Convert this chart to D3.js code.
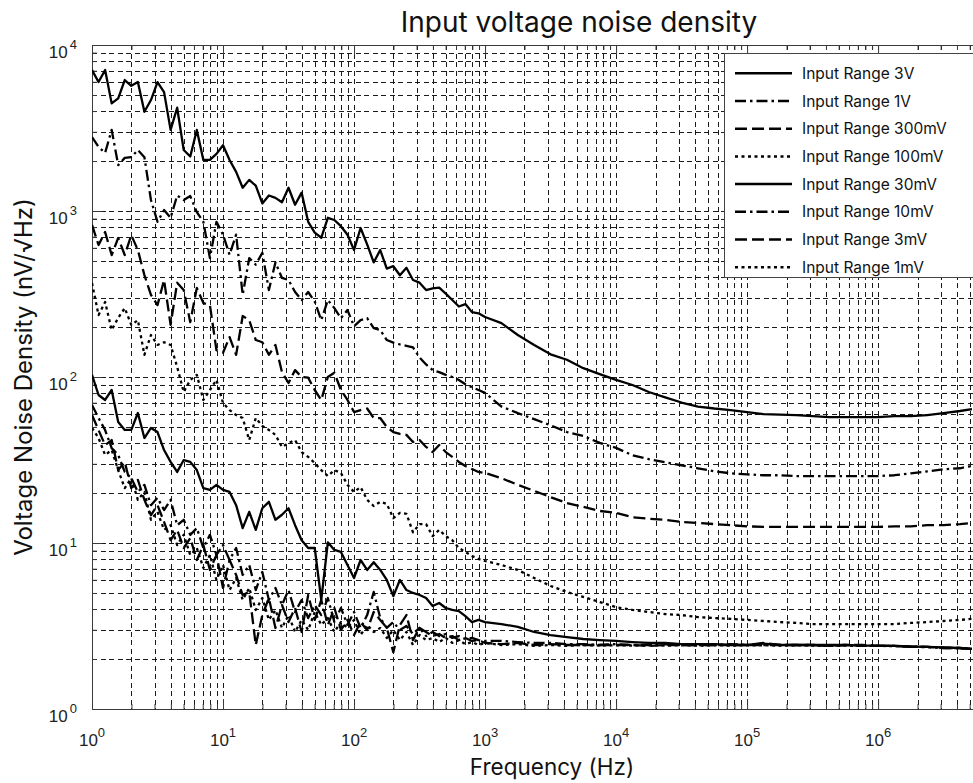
<!DOCTYPE html>
<html>
<head>
<meta charset="utf-8">
<script src="https://cdn.jsdelivr.net/npm/d3@7"></script>
<style>
  body { margin: 0; background: #fff; }
  svg { display: block; }
</style>
</head>
<body>
<svg id="chart" width="973" height="783"></svg>
<script>
// Frequency grid (Hz): dense over 1 Hz - 1 kHz, coarser above
const freqs = [
  1, 1.122, 1.259, 1.413, 1.585, 1.778, 1.995, 2.239, 2.512, 2.818,
  3.162, 3.548, 3.981, 4.467, 5.012, 5.623, 6.310, 7.079, 7.943, 8.913,
  10, 11.22, 12.59, 14.13, 15.85, 17.78, 19.95, 22.39, 25.12, 28.18,
  31.62, 35.48, 39.81, 44.67, 50.12, 56.23, 63.10, 70.79, 79.43, 89.13,
  100, 112.2, 125.9, 141.3, 158.5, 177.8, 199.5, 223.9, 251.2, 281.8,
  316.2, 354.8, 398.1, 446.7, 501.2, 562.3, 631.0, 707.9, 794.3, 891.3,
  1000,
  1334, 1778, 2371, 3162, 4217, 5623, 7499, 10000,
  13340, 17780, 23710, 31620, 42170, 56230, 74990, 100000,
  133400, 177800, 237100, 316200, 421700, 562300, 749900, 1000000,
  1334000, 1778000, 2371000, 3162000, 4217000, 5200000
];

// Noise density per input range (nV/sqrt(Hz))
const range3V = [
  7070, 5980, 7070, 4450, 4770, 6150, 5680, 5980, 3960, 4660,
  5980, 5200, 3080, 4190, 2330, 2130, 3080, 2030, 2030, 2210,
  2490, 2030, 1720, 1380, 1540, 1420, 1110, 1240, 1200, 1130,
  1380, 1090, 1290, 861, 740, 690, 910, 883, 810, 720,
  582, 790, 630, 490, 582, 450, 465, 410, 455, 384,
  370, 334, 342, 345, 318, 291, 266, 275, 246, 242,
  230,
  211, 179, 156, 137, 127, 113, 104, 96,
  89.5, 81.2, 75.3, 70.2, 66.4, 64.6, 63.2, 61.4,
  59.7, 59.3, 59.0, 58.1, 57.3, 57.3, 57.3, 57.3,
  58.1, 58.1, 59.0, 60.6, 62.4, 64.0
];
const range1V = [
  2790, 2430, 2240, 3080, 1890, 2090, 2110, 2330, 2110, 1165,
  861, 1014, 910, 1240, 1165, 1230, 985, 861, 520, 861,
  720, 545, 720, 313, 520, 475, 560, 334, 490, 395,
  384, 325, 291, 325, 285, 220, 291, 260, 226, 253,
  202, 220, 226, 197, 192, 167, 161, 157, 154, 151,
  131, 119, 110, 107, 103, 100, 96, 90.5, 86.9, 83.5,
  80.2,
  66.4, 60.6, 55.7, 51.2, 46.6, 44.1, 40.1, 37.4,
  33.8, 32.0, 30.6, 29.4, 28.2, 27.0, 26.3, 25.9,
  25.6, 25.6, 25.3, 25.3, 25.3, 25.3, 25.3, 25.3,
  25.6, 26.3, 27.0, 27.8, 28.2, 29.1
];
const range300mV = [
  824, 624, 747, 543, 688, 543, 716, 582, 411, 312,
  271, 384, 206, 370, 334, 214, 344, 279, 271, 145,
  140, 174, 136, 233, 220, 167, 162, 136, 156, 107,
  92, 110, 100, 99, 83.5, 72.7, 100, 106, 83.5, 72.7,
  61.5, 63.2, 64.6, 56.6, 56.6, 50.0, 46.6, 45.4, 44.8, 40.6,
  41.7, 37.9, 35.3, 38.9, 35.3, 33.0, 30.8, 29.1, 27.9, 26.8,
  26.4,
  24.6, 22.4, 20.6, 18.9, 17.4, 16.5, 15.6, 15.2,
  14.3, 14.0, 13.8, 13.4, 13.2, 13.0, 12.8, 12.6,
  12.5, 12.5, 12.5, 12.5, 12.5, 12.5, 12.5, 12.5,
  12.6, 12.6, 12.8, 12.8, 13.0, 13.2
];
const range100mV = [
  368, 236, 283, 192, 227, 260, 206, 220, 136, 179,
  156, 162, 156, 115, 81.2, 96, 103, 72.7, 83.5, 96,
  69.7, 63.2, 59.0, 56.6, 41.7, 56.6, 50.7, 48.0, 44.8, 37.9,
  40.0, 41.7, 35.3, 33.0, 30.3, 27.5, 25.3, 27.5, 26.4, 22.4,
  20.3, 21.7, 18.2, 16.7, 17.7, 17.2, 14.1, 15.2, 15.0, 11.6,
  13.0, 13.0, 11.0, 12.0, 11.0, 10.4, 9.33, 8.83, 8.35, 8.01,
  7.79,
  7.37, 6.88, 6.15, 5.51, 5.07, 4.73, 4.41, 4.11,
  3.95, 3.84, 3.73, 3.68, 3.58, 3.53, 3.49, 3.44,
  3.39, 3.34, 3.30, 3.25, 3.25, 3.25, 3.25, 3.25,
  3.25, 3.30, 3.34, 3.39, 3.44, 3.49
];
const range30mV = [
  103, 77.9, 72.7, 83.5, 53.5, 48.0, 48.0, 60.7, 42.9, 49.3,
  46.6, 36.3, 30.8, 26.8, 31.6, 30.8, 27.5, 21.4, 20.9, 22.4,
  20.9, 20.3, 16.9, 12.3, 15.4, 12.0, 16.2, 17.7, 13.8, 14.8,
  16.2, 12.8, 10.4, 9.33, 9.33, 4.54, 10.1, 9.08, 8.83, 7.37,
  6.15, 7.90, 6.88, 7.66, 6.88, 5.99, 4.79, 5.99, 5.21, 5.00,
  4.86, 4.66, 4.17, 4.35, 4.06, 3.95, 3.89, 3.63, 3.34, 3.44,
  3.34,
  3.25, 3.12, 2.91, 2.79, 2.71, 2.64, 2.60, 2.57,
  2.53, 2.50, 2.50, 2.46, 2.46, 2.46, 2.43, 2.43,
  2.48, 2.43, 2.43, 2.43, 2.43, 2.43, 2.41, 2.41,
  2.40, 2.38, 2.37, 2.35, 2.33, 2.30
];
const range10mV = [
  67.8, 56.6, 47.9, 37.3, 33.9, 26.8, 24.6, 20.3, 22.4, 16.9,
  18.7, 15.8, 18.2, 12.8, 13.8, 11.2, 12.3, 9.33, 11.2, 8.47,
  9.72, 7.90, 9.33, 6.42, 7.37, 5.21, 6.69, 4.54, 5.36, 4.23,
  5.21, 3.84, 4.54, 3.53, 4.23, 3.68, 4.66, 3.34, 4.06, 3.21,
  3.84, 3.08, 3.68, 5.07, 3.53, 3.08, 3.34, 2.99, 3.16, 2.83,
  3.08, 2.75, 2.91, 2.75, 2.83, 2.68, 2.75, 2.64, 2.68, 2.60,
  2.57,
  2.57, 2.53, 2.50, 2.50, 2.46, 2.46, 2.43, 2.46,
  2.43, 2.43, 2.46, 2.43, 2.43, 2.43, 2.46, 2.43,
  2.43, 2.43, 2.43, 2.43, 2.40, 2.43, 2.40, 2.40,
  2.40, 2.37, 2.37, 2.33, 2.33, 2.30
];
const range3mV = [
  59.0, 47.9, 38.9, 41.7, 27.5, 30.8, 21.4, 24.0, 18.2, 14.7,
  16.9, 13.4, 10.4, 12.0, 9.33, 10.7, 7.90, 9.72, 6.88, 8.47,
  5.36, 7.90, 6.42, 4.86, 5.07, 2.43, 3.68, 4.66, 3.08, 4.23,
  3.34, 4.06, 2.91, 4.86, 3.44, 4.54, 3.21, 4.06, 2.99, 3.44,
  2.79, 3.34, 2.99, 3.84, 3.44, 3.08, 2.20, 3.21, 3.68, 2.60,
  3.08, 2.91, 2.75, 2.83, 2.68, 2.75, 2.60, 2.68, 2.57, 2.60,
  2.50,
  2.46, 2.50, 2.43, 2.46, 2.43, 2.43, 2.43, 2.43,
  2.43, 2.40, 2.43, 2.43, 2.43, 2.43, 2.43, 2.43,
  2.50, 2.43, 2.43, 2.43, 2.40, 2.43, 2.43, 2.40,
  2.40, 2.37, 2.37, 2.33, 2.33, 2.30
];
const range1mV = [
  49.3, 42.9, 33.9, 36.3, 27.5, 21.4, 24.6, 18.2, 20.3, 13.8,
  15.4, 12.0, 12.8, 9.72, 11.2, 8.47, 9.33, 7.07, 8.47, 5.99,
  7.37, 5.21, 6.15, 4.54, 5.36, 3.95, 4.66, 3.44, 3.95, 3.08,
  3.68, 2.91, 3.44, 2.99, 3.84, 3.21, 3.53, 2.91, 3.34, 3.08,
  3.44, 2.79, 3.21, 2.91, 3.08, 2.68, 2.99, 2.60, 2.91, 2.43,
  2.79, 2.60, 2.68, 2.53, 2.68, 2.50, 2.60, 2.46, 2.53, 2.43,
  2.50,
  2.43, 2.46, 2.40, 2.43, 2.40, 2.43, 2.41, 2.42,
  2.41, 2.42, 2.41, 2.42, 2.41, 2.42, 2.41, 2.42,
  2.42, 2.41, 2.42, 2.41, 2.40, 2.41, 2.40, 2.40,
  2.39, 2.37, 2.36, 2.34, 2.32, 2.30
];

const seriesNames = [
  "Input Range 3V", "Input Range 1V", "Input Range 300mV", "Input Range 100mV",
  "Input Range 30mV", "Input Range 10mV", "Input Range 3mV", "Input Range 1mV"
];
const seriesValues = [range3V, range1V, range300mV, range100mV,
                      range30mV, range10mV, range3mV, range1mV];

// Line styles cycle: solid, dash-dot, dashed, dotted
const dashPatterns = [null, "11,4,2.5,4", "12,5", "3,3.5"];

const xDecades = [1, 10, 100, 1000, 10000, 100000, 1000000];
const yDecades = [1, 10, 100, 1000, 10000];

const svg = d3.select("#chart");
const W = 973, H = 783;
const plotL = 92, plotT = 45, plotB = 709, plotR = 973;

const x = d3.scaleLog().domain([1, 5.3e6]).range([plotL, plotR]);
const y = d3.scaleLog().domain([1, 1e4]).range([plotB, plotT]);

svg.append("rect").attr("width", W).attr("height", H).attr("fill", "#fff");

svg.append("defs").append("clipPath").attr("id", "plotClip")
  .append("rect").attr("x", plotL).attr("y", plotT)
  .attr("width", plotR - plotL).attr("height", plotB - plotT);

// Dashed grid on every major and minor tick
const grid = svg.append("g").attr("stroke", "#1a1a1a").attr("stroke-width", 1)
  .attr("stroke-dasharray", "5,3.5").attr("shape-rendering", "crispEdges");
const xGrid = x.ticks().filter(v => v > 1 && v < x.domain()[1]);
grid.selectAll("line.vx").data(xGrid).join("line")
  .attr("x1", d => Math.round(x(d)) + 0.5).attr("x2", d => Math.round(x(d)) + 0.5)
  .attr("y1", plotT).attr("y2", plotB);
const yGrid = y.ticks().filter(v => v > 1 && v < 1e4);
grid.selectAll("line.hy").data(yGrid).join("line")
  .attr("y1", d => Math.round(y(d)) + 0.5).attr("y2", d => Math.round(y(d)) + 0.5)
  .attr("x1", plotL).attr("x2", plotR);

// Axes: inward ticks, labels drawn separately with superscripts
const isMajor = v => Math.abs(Math.log10(v) - Math.round(Math.log10(v))) < 1e-6;
const axisColor = "#3a3a3a";

const axB = d3.axisBottom(x).tickValues(x.ticks()).tickFormat("").tickSizeOuter(0)
  .tickSizeInner(-5);
const gB = svg.append("g").attr("transform", `translate(0,${plotB})`).call(axB);
gB.selectAll(".tick line").attr("y2", d => isMajor(d) ? -10 : -5);
const axT = d3.axisTop(x).tickValues(x.ticks()).tickFormat("").tickSizeOuter(0)
  .tickSizeInner(-5);
const gT = svg.append("g").attr("transform", `translate(0,${plotT})`).call(axT);
gT.selectAll(".tick line").attr("y2", d => isMajor(d) ? 10 : 5);
const axL = d3.axisLeft(y).tickValues(y.ticks()).tickFormat("").tickSizeOuter(0)
  .tickSizeInner(-5);
const gL = svg.append("g").attr("transform", `translate(${plotL},0)`).call(axL);
gL.selectAll(".tick line").attr("x2", d => isMajor(d) ? 10 : 5);
[gB, gT, gL].forEach(g => {
  g.select(".domain").attr("stroke", axisColor);
  g.selectAll(".tick line").attr("stroke", axisColor);
});

const tickFont = "'Liberation Sans', Arial, sans-serif";
svg.append("g").selectAll("text").data(xDecades).join("text")
  .attr("x", d => x(d)).attr("y", plotB + 37)
  .attr("text-anchor", "middle").attr("font-family", tickFont)
  .attr("font-size", 17).attr("fill", "#222")
  .each(function(d) {
    const t = d3.select(this);
    t.append("tspan").text("10");
    t.append("tspan").attr("dy", -9).attr("font-size", 13).text(Math.round(Math.log10(d)));
  });
svg.append("g").selectAll("text").data(yDecades).join("text")
  .attr("x", 77).attr("y", d => y(d) + 13)
  .attr("text-anchor", "end").attr("font-family", tickFont)
  .attr("font-size", 17).attr("fill", "#222")
  .each(function(d) {
    const t = d3.select(this);
    t.append("tspan").text("10");
    t.append("tspan").attr("dy", -9).attr("dx", 2).attr("font-size", 13).text(Math.round(Math.log10(d)));
  });

// Curves
const line = d3.line().x(d => x(d[0])).y(d => y(d[1]));
const curves = svg.append("g").attr("clip-path", "url(#plotClip)");
seriesValues.forEach((vals, i) => {
  const pts = freqs.map((f, j) => [f, vals[j]]);
  curves.append("path").datum(pts)
    .attr("d", line).attr("fill", "none").attr("stroke", "#000")
    .attr("stroke-width", 2.3).attr("stroke-linejoin", "round")
    .attr("stroke-dasharray", dashPatterns[i % 4]);
});

// Legend
const textFont = "Inter, Roboto, sans-serif";
const lg = svg.append("g");
lg.append("rect").attr("x", 724.5).attr("y", 53.5).attr("width", 260).attr("height", 224)
  .attr("fill", "#fff").attr("stroke", "#444").attr("stroke-width", 1);
seriesNames.forEach((name, i) => {
  const cy = 73.3 + i * 27.7;
  lg.append("line").attr("x1", 735).attr("x2", 792).attr("y1", cy).attr("y2", cy)
    .attr("stroke", "#000").attr("stroke-width", 2.5)
    .attr("stroke-dasharray", dashPatterns[i % 4]);
  lg.append("text").attr("x", 802).attr("y", cy + 5.5)
    .attr("font-family", textFont).attr("font-size", 15.5).attr("fill", "#111")
    .text(name);
});

// Titles
svg.append("text").attr("x", 579).attr("y", 32).attr("text-anchor", "middle")
  .attr("font-family", textFont).attr("font-size", 28).attr("fill", "#111")
  .text("Input voltage noise density");
svg.append("text").attr("x", 552).attr("y", 775).attr("text-anchor", "middle")
  .attr("font-family", textFont).attr("font-size", 22.5).attr("fill", "#111")
  .text("Frequency (Hz)");
svg.append("text").attr("transform", "translate(32,377) rotate(-90)")
  .attr("text-anchor", "middle")
  .attr("font-family", textFont).attr("font-size", 24).attr("fill", "#111")
  .text("Voltage Noise Density (nV/\u221AHz)");
</script>
</body>
</html>
